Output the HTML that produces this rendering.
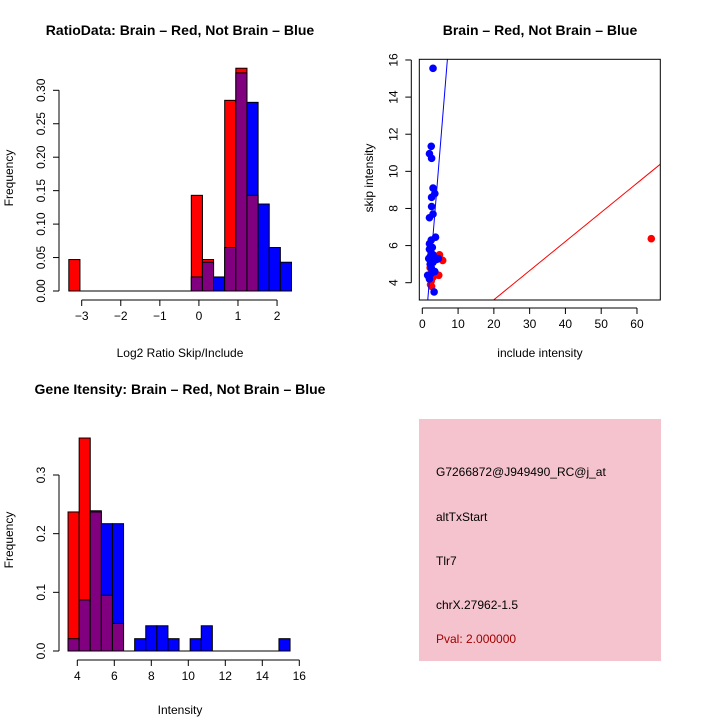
<!DOCTYPE html>
<html><head><meta charset="utf-8"><style>
html,body{margin:0;padding:0;background:#fff;width:720px;height:720px;overflow:hidden}
svg{display:block;font-family:"Liberation Sans",sans-serif}
</style></head><body>
<svg id="s" width="720" height="720" xmlns="http://www.w3.org/2000/svg">
<text x="180" y="35" text-anchor="middle" font-size="14" font-weight="bold">RatioData: Brain – Red, Not Brain – Blue</text>
<text x="540" y="35" text-anchor="middle" font-size="14" font-weight="bold">Brain – Red, Not Brain – Blue</text>
<text x="180" y="394" text-anchor="middle" font-size="14" font-weight="bold">Gene Itensity: Brain – Red, Not Brain – Blue</text>
<text x="180" y="357" text-anchor="middle" font-size="12">Log2 Ratio Skip/Include</text>
<text transform="translate(13,178) rotate(-90)" text-anchor="middle" font-size="12">Frequency</text>
<text x="540" y="357" text-anchor="middle" font-size="12">include intensity</text>
<text transform="translate(373,178) rotate(-90)" text-anchor="middle" font-size="12">skip intensity</text>
<text x="180" y="714" text-anchor="middle" font-size="12">Intensity</text>
<text transform="translate(13,540) rotate(-90)" text-anchor="middle" font-size="12">Frequency</text>
<rect x="419" y="419" width="242" height="242" fill="#f4c3cd"/>
<g font-size="12">
<text x="436" y="476">G7266872@J949490_RC@j_at</text>
<text x="436" y="521">altTxStart</text>
<text x="436" y="565">Tlr7</text>
<text x="436" y="609">chrX.27962-1.5</text>
<text x="436" y="643" fill="#a00000">Pval: 2.000000</text>
</g>
<g id="g"></g>
</svg>
<script>
// ratio histogram
const ratioStart=-3.33, ratioStep=0.285;
const ratioRed=[0.047,0,0,0,0,0,0,0,0,0,0,0.143,0.047,0,0.285,0.333,0.143,0,0,0];
const ratioBlue=[0,0,0,0,0,0,0,0,0,0,0,0.021,0.043,0.021,0.065,0.326,0.282,0.130,0.065,0.043];
const ratioXTicks=[-3,-2,-1,0,1,2];
const ratioYTicks=["0.00","0.05","0.10","0.15","0.20","0.25","0.30"];
// intensity histogram
const intStart=3.5, intStep=0.6;
const intRed=[0.237,0.363,0.239,0.095,0.047,0,0,0,0,0,0,0,0,0,0,0,0,0,0,0];
const intBlue=[0.021,0.087,0.237,0.217,0.217,0,0.021,0.043,0.043,0.021,0,0.021,0.043,0,0,0,0,0,0,0.021];
const intXTicks=[4,6,8,10,12,14,16];
const intYTicks=["0.0","0.1","0.2","0.3"];
// scatter
const blueX=[3,2.5,2,2.6,3,3.5,2.6,2.6,2,3,3.7,2.5,2,2,2.5,3,3.5,4,1.8,2.2,2.5,3.5,1.5,2,2.5,3.3,2.8,2.2,3,4.5];
const blueY=[15.55,11.35,10.95,10.7,9.1,8.8,8.6,8.1,7.5,7.7,6.45,6.3,6.1,5.8,5.6,5.5,5.3,5.25,5.3,5.0,4.8,4.6,4.4,4.2,4.5,3.5,5.9,5.4,5.1,5.3];
const redX=[64,4.8,5.7,4.6,2.2,2.6,2.3,3,2.5,3.5];
const redY=[6.37,5.5,5.2,4.4,4.8,3.8,3.9,4.3,4.1,5.4];
const blueFit=[-0.545,2.364];
const redFit=[-0.06,0.157];
const scXTicks=[0,10,20,30,40,50,60];
const scYTicks=[4,6,8,10,12,14,16];

const NS="http://www.w3.org/2000/svg", G=document.getElementById('g');
function mk(t,a,name){const e=document.createElementNS(NS,t);for(const k in a)e.setAttribute(k,a[k]);


G.appendChild(e);return e;}

function hist(pfx,start,step,red,blue,xs,ys,xTicks,yTicks,yMax,axY){
  for(let i=0;i<red.length;i++){
    const x0=xs(start+i*step),x1=xs(start+(i+1)*step);
    const r=red[i],b=blue[i],mx=Math.max(r,b),mn=Math.min(r,b);
    if(mx>0) mk('rect',{x:x0,y:ys(mx),width:x1-x0,height:ys(0)-ys(mx),fill:r>=b?'#ff0000':'#0000ff',stroke:'#000','stroke-width':1},pfx+'-bar-'+(r>=b?'red':'blue'));
    if(mn>0) mk('rect',{x:x0,y:ys(mn),width:x1-x0,height:ys(0)-ys(mn),fill:'#800080',stroke:'#000','stroke-width':1},pfx+'-bar-overlap');
  }
  mk('line',{x1:xs(start),x2:xs(start+red.length*step),y1:ys(0),y2:ys(0),stroke:'#000'},pfx+'-baseline');
  mk('line',{x1:xs(xTicks[0]),x2:xs(xTicks[xTicks.length-1]),y1:axY,y2:axY,stroke:'#000'},pfx+'-x-axis');
  xTicks.forEach(t=>{mk('line',{x1:xs(t),x2:xs(t),y1:axY,y2:axY+6,stroke:'#000'},pfx+'-x-tick');
    const e=mk('text',{x:xs(t),y:axY+20,'text-anchor':'middle','font-size':12},pfx+'-x-tick-label');e.textContent=String(t).replace('-','−');});
  const yv=yTicks.map(Number);
  mk('line',{x1:59,x2:59,y1:ys(0),y2:ys(yv[yv.length-1]),stroke:'#000'},pfx+'-y-axis');
  yTicks.forEach(t=>{const y=ys(+t);mk('line',{x1:53,x2:59,y1:y,y2:y,stroke:'#000'},pfx+'-y-tick');
    const e=mk('text',{transform:`translate(45,${y}) rotate(-90)`,'text-anchor':'middle','font-size':12},pfx+'-y-tick-label');e.textContent=t;});
}
hist('ratio',ratioStart,ratioStep,ratioRed,ratioBlue,v=>81.7+(v+3)*39.07,v=>291-v*669,ratioXTicks,ratioYTicks,0.3,300);
hist('intensity',intStart,intStep,intRed,intBlue,v=>77.3+(v-4)*18.5,v=>651-v*586.7,intXTicks,intYTicks,0.3,660);

// scatter
const sx=v=>422.3+v*3.578, sy=v=>282.7-(v-4)*18.56;
const L=419.3,R=660.3,T=59.3,B=300;
const clip=mk('clipPath',{id:'sc'},'scatter-clip');
const cr=document.createElementNS(NS,'rect');cr.setAttribute('x',L);cr.setAttribute('y',T);cr.setAttribute('width',R-L);cr.setAttribute('height',B-T);clip.appendChild(cr);
function fit(f,col,name){mk('line',{x1:sx(-10),y1:sy(f[0]+f[1]*-10),x2:sx(70),y2:sy(f[0]+f[1]*70),stroke:col,'clip-path':'url(#sc)'},name);}
redX.forEach((x,i)=>mk('circle',{cx:sx(x),cy:sy(redY[i]),r:3.8,fill:'#ff0000'},'red-point'));
blueX.forEach((x,i)=>mk('circle',{cx:sx(x),cy:sy(blueY[i]),r:3.8,fill:'#0000ff'},'blue-point'));
fit(blueFit,'#0000ff','blue-fit-line');fit(redFit,'#ff0000','red-fit-line');
mk('rect',{x:L,y:T,width:R-L,height:B-T,fill:'none',stroke:'#000'},'scatter-box');
mk('line',{x1:sx(0),x2:sx(60),y1:B+8,y2:B+8,stroke:'#000'},'scatter-x-axis');
scXTicks.forEach(t=>{mk('line',{x1:sx(t),x2:sx(t),y1:B+8,y2:B+14,stroke:'#000'},'scatter-x-tick');
 const e=mk('text',{x:sx(t),y:B+28,'text-anchor':'middle','font-size':12},'scatter-x-tick-label');e.textContent=t;});
mk('line',{x1:L-8,x2:L-8,y1:sy(4),y2:sy(16),stroke:'#000'},'scatter-y-axis');
scYTicks.forEach(t=>{mk('line',{x1:L-14,x2:L-8,y1:sy(t),y2:sy(t),stroke:'#000'},'scatter-y-tick');
 const e=mk('text',{transform:`translate(${L-22},${sy(t)}) rotate(-90)`,'text-anchor':'middle','font-size':12},'scatter-y-tick-label');e.textContent=t;});
</script>
</body></html>
